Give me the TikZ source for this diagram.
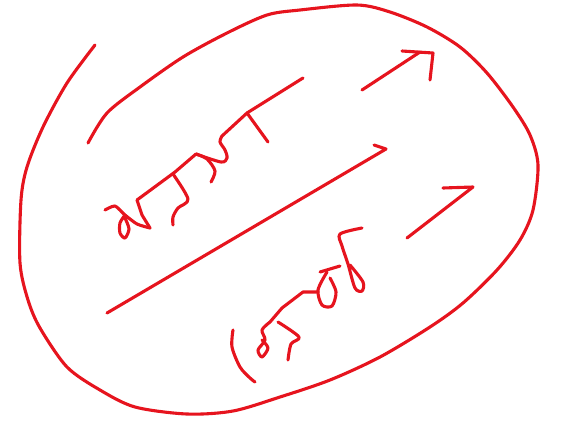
\documentclass[tikz,border=0pt]{standalone}
\begin{document}
\begin{tikzpicture}[x=1pt,y=-1pt,
  ink/.style={draw=penred,line width=3.1pt,line cap=round,line join=round}]
\definecolor{penred}{RGB}{230,20,30}
\useasboundingbox (0,0) rectangle (561,421);
% outer ellipse (one hand-drawn stroke)
\draw[ink] plot[smooth,tension=0.5] coordinates {(95,45) (67,83) (43,127) (27,167) (21,200) (20,263) (28,300) (40,328) (67,367) (100,390) (135,407) (187,414) (233,411) (280,397) (330,380) (380,357) (430,327) (463,303) (497,270) (520,240) (533,210) (538,165) (530,135) (513,107) (487,73) (460,47) (427,27) (390,12) (357,5) (300,10) (267,15) (227,33) (183,57) (140,87) (107,113) (88,143)};
% top arrow
\draw[ink] (362,90) -- (420,52);
\draw[ink] (402,51) -- (433,53) -- (430,80);
% right short stroke
\draw[ink] (407,238) -- (473,187) -- (443,188);
% middle long line
\draw[ink] (107,313) -- (386,149) -- (374,145);
% upper handwriting
\draw[ink] (303,78) -- (247,113) -- (222,136);
\draw[ink] (247,113) -- (268,142);
\draw[ink] plot[smooth,tension=0.5] coordinates {(222,136) (220,142) (225,150) (227,158) (221,162) (196,154)};
\draw[ink] (196,154) -- (175,172) -- (137,200);
\draw[ink] plot[smooth,tension=0.5] coordinates {(196,154) (207,159) (215,171) (211,182)};
\draw[ink] plot[smooth,tension=0.5] coordinates {(173,174) (188,199) (178,208) (173,217) (173,225)};
\draw[ink] (137,200) -- (142,215) -- (150,228);
\draw[ink] plot[smooth,tension=0.4] coordinates {(105,210) (115,206) (125,215) (137,224) (150,228)};
\draw[ink] plot[smooth,tension=0.5] coordinates {(125,215) (120,223) (120,233) (125,238) (129,229) (125,218)};
% lower handwriting
\draw[ink] plot[smooth,tension=0.5] coordinates {(362,228) (340,234) (342,246) (348,264) (355,288) (362,291) (363,282) (350,265)};
\draw[ink] plot[smooth,tension=0.5] coordinates {(327,272) (318,290) (322,305) (332,306) (336,292) (330,278)};
\draw[ink] (320,272) -- (340,266);
\draw[ink] (318,292) -- (303,292) -- (282,308) -- (270,322);
\draw[ink] plot[smooth,tension=0.5] coordinates {(270,322) (262,330) (265,340) (258,350) (262,357) (268,348) (262,340)};
\draw[ink] plot[smooth,tension=0.5] coordinates {(233,330) (232,347) (240,367) (250,378) (255,382)};
\draw[ink] plot[smooth,tension=0.5] coordinates {(278,322) (299,337) (291,344) (288,360)};
\end{tikzpicture}
\end{document}
